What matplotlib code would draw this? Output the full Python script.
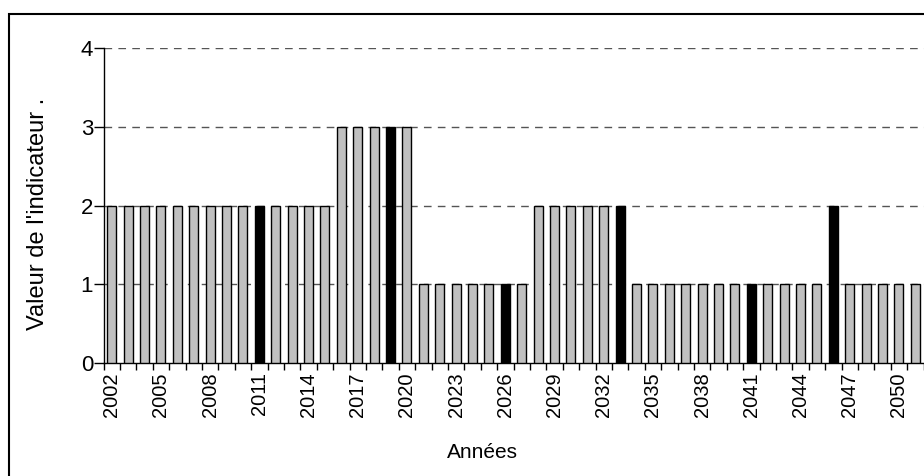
import matplotlib.pyplot as plt
from matplotlib.patches import Rectangle
import numpy as np

plt.rcParams["font.family"] = ["Liberation Sans", "DejaVu Sans"]

years = list(range(2002, 2052))
values = [2, 2, 2, 2, 2, 2, 2, 2, 2, 2,   # 2002-2011
          2, 2, 2, 2, 3, 3, 3, 3, 3, 1,   # 2012-2021
          1, 1, 1, 1, 1, 1, 2, 2, 2, 2,   # 2022-2031
          2, 2, 1, 1, 1, 1, 1, 1, 1, 1,   # 2032-2041
          1, 1, 1, 1, 2, 1, 1, 1, 1, 1]   # 2042-2051
highlight_years = [2011, 2019, 2026, 2033, 2041, 2046]
ylabel = "Valeur de l'indicateur ."
xlabel = "Années"

W, H = 924, 476
fig = plt.figure(figsize=(W / 100, H / 100), dpi=100)

# outer chart frame, cut off on the right and bottom
fig.patches.append(Rectangle((9 / W, -0.1), 1.2, (476 - 14) / H + 0.1,
                             transform=fig.transFigure, fill=False,
                             edgecolor="black", linewidth=1.5))

ax = fig.add_axes([103.5 / W, 113 / H, 820 / W, 315 / H])

colors = ["black" if y in highlight_years else "#c0c0c0" for y in years]
ax.bar(years, values, width=0.55, color=colors, edgecolor="black",
       linewidth=1.0, zorder=3)

ax.set_xlim(2001.5, 2051.5)
ax.set_ylim(0, 4)
ax.set_yticks([0, 1, 2, 3, 4])
ax.tick_params(axis="y", direction="out", length=7, width=1, pad=0.5,
               labelsize=16)
for v in [1, 2, 3, 4]:
    ax.axhline(v, color="#555555", linestyle=(0, (5.5, 4.5)), linewidth=1.0,
               zorder=1)

ax.set_xticks(years[::3])
ax.set_xticklabels([str(y) for y in years[::3]], rotation=90)
ax.set_xticks(np.arange(2001.5, 2052, 1), minor=True)
ax.tick_params(axis="x", which="major", length=0, pad=6.5, labelsize=14.5)
ax.tick_params(axis="x", which="minor", direction="out", length=5, width=1)

for side in ["top", "right"]:
    ax.spines[side].set_visible(False)
ax.spines["left"].set_linewidth(1.0)
ax.spines["bottom"].set_linewidth(1.0)

fig.text(482 / W, 1 - 453 / H, xlabel, ha="center", va="center",
         fontsize=15)
fig.text(38 / W, 1 - 214 / H, ylabel, ha="center", va="center",
         rotation=90, fontsize=17)

fig.savefig("out.png", dpi=100)
